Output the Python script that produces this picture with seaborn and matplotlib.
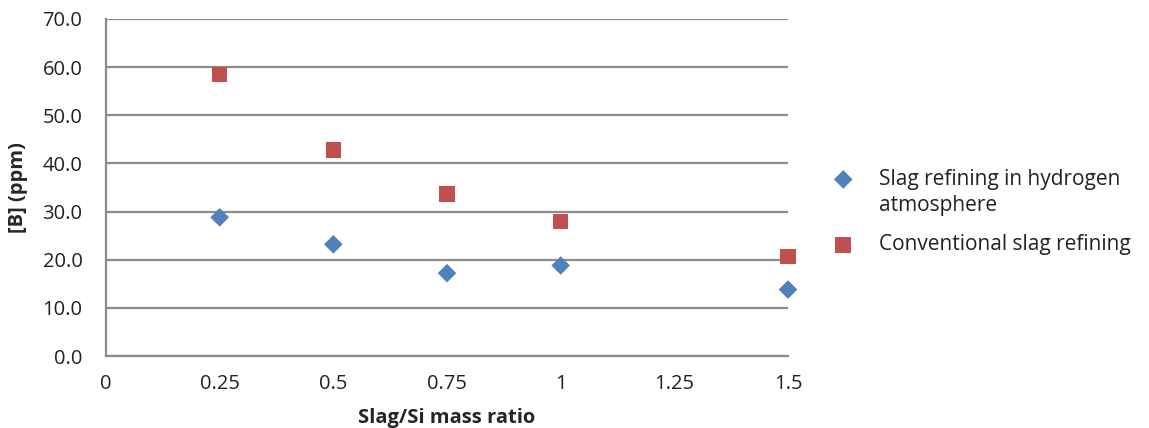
import matplotlib
matplotlib.use("Agg")
import matplotlib.pyplot as plt
import seaborn as sns
import pandas as pd
import numpy as np

ratios = [0.25, 0.5, 0.75, 1.0, 1.5]
hydrogen = [28.8, 23.2, 17.2, 18.8, 13.8]
conventional = [58.5, 42.8, 33.7, 27.9, 20.7]
series_names = ["Slag refining in hydrogen\natmosphere", "Conventional slag refining"]
x_ticks = [0, 0.25, 0.5, 0.75, 1, 1.25, 1.5]
x_tick_labels = ["0", "0.25", "0.5", "0.75", "1", "1.25", "1.5"]
y_ticks = [0, 10, 20, 30, 40, 50, 60, 70]

df = pd.DataFrame({
    "ratio": ratios * 2,
    "B": hydrogen + conventional,
    "series": [series_names[0]] * len(ratios) + [series_names[1]] * len(ratios),
})

sns.set_style("white")
plt.rcParams["font.family"] = ["Open Sans", "DejaVu Sans"]

fig = plt.figure(figsize=(11.49, 4.28), dpi=100)
ax = fig.add_axes([106 / 1149, 1 - 356 / 428, (788 - 106) / 1149, (356 - 19) / 428])

palette = {series_names[0]: "#4F81BD", series_names[1]: "#C0504D"}
markers = {series_names[0]: "D", series_names[1]: "s"}
sizes_map = {series_names[0]: 90, series_names[1]: 125}

for name in series_names:
    sub = df[df["series"] == name]
    sns.scatterplot(data=sub, x="ratio", y="B", color=palette[name], marker=markers[name],
                    s=sizes_map[name], edgecolor="none", ax=ax, label=name, clip_on=False, zorder=3)

ax.set_xlim(0, 1.5)
ax.set_ylim(0, 70)
ax.set_xticks(x_ticks)
ax.set_xticklabels(x_tick_labels)
ax.set_yticks(y_ticks)
ax.set_yticklabels([f"{v:.1f}" for v in y_ticks])
ax.yaxis.grid(True, color="#8c8c8c", linewidth=1.6)
ax.xaxis.grid(False)
ax.set_axisbelow(True)
for s in ["top", "right"]:
    ax.spines[s].set_visible(False)
for s in ["left", "bottom"]:
    ax.spines[s].set_color("#8c8c8c")
    ax.spines[s].set_linewidth(1.6)
ax.tick_params(axis="both", length=0, labelsize=14.5, colors="#222222")
ax.tick_params(axis="x", pad=13)
ax.tick_params(axis="y", pad=17)

ax.set_xlabel("Slag/Si mass ratio", fontsize=14.5, fontweight="bold", labelpad=10)
ax.set_ylabel("[B] (ppm)", fontsize=14.5, fontweight="bold", labelpad=10)

leg = ax.legend(loc="upper left", bbox_to_anchor=(812 / 1149, 1 - 150 / 428),
                bbox_transform=fig.transFigure, frameon=False, fontsize=15,
                handletextpad=1.1, labelspacing=0.9, markerscale=1.0, handlelength=1.2)
for t in leg.get_texts():
    t.set_linespacing(1.3)
    t.set_color("#222222")
h0 = leg.legend_handles[0]
offs = np.array(h0.get_offsets(), dtype=float)
offs[:, 1] += 11
h0.set_offsets(offs)

fig.savefig("out.png", dpi=100, facecolor="white")
